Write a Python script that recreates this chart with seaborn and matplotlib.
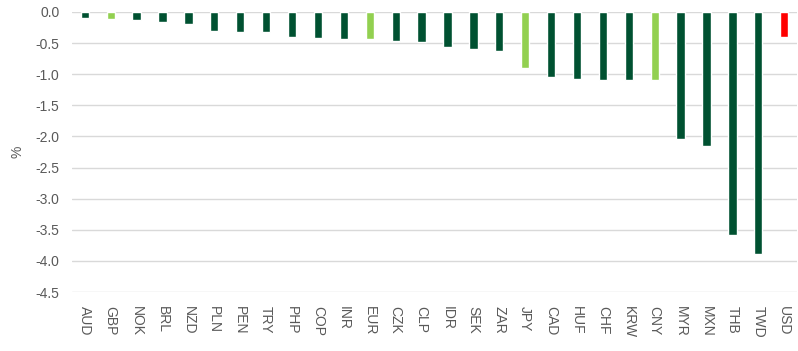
import numpy as np
import pandas as pd
import matplotlib
matplotlib.use("Agg")
import matplotlib.pyplot as plt
import seaborn as sns

currencies = ["AUD", "GBP", "NOK", "BRL", "NZD", "PLN", "PEN", "TRY", "PHP", "COP",
              "INR", "EUR", "CZK", "CLP", "IDR", "SEK", "ZAR", "JPY", "CAD", "HUF",
              "CHF", "KRW", "CNY", "MYR", "MXN", "THB", "TWD", "USD"]
values = [-0.10, -0.11, -0.13, -0.16, -0.19, -0.30, -0.32, -0.32, -0.40, -0.42,
          -0.44, -0.44, -0.47, -0.48, -0.57, -0.60, -0.62, -0.90, -1.04, -1.08,
          -1.09, -1.10, -1.10, -2.04, -2.15, -3.58, -3.89, -0.41]
groups = ["other"] * len(currencies)
for c in ["GBP", "EUR", "JPY", "CNY"]:
    groups[currencies.index(c)] = "major"
groups[currencies.index("USD")] = "usd"

yticks = [0.0, -0.5, -1.0, -1.5, -2.0, -2.5, -3.0, -3.5, -4.0, -4.5]

palette = {"other": "#005131", "major": "#92D050", "usd": "#FF0000"}
text_col = "#595959"

df = pd.DataFrame({"ccy": currencies, "val": values, "grp": groups})

sns.set_style("white")
plt.rcParams["font.family"] = ["Liberation Sans", "DejaVu Sans"]

fig = plt.figure(figsize=(7.98, 3.51), dpi=100)
ax = fig.add_axes([0.090, 0.168, 0.909, 0.798])

sns.barplot(data=df, x="ccy", y="val", hue="grp", palette=palette,
            dodge=False, width=0.32, saturation=1, legend=False, ax=ax, zorder=3)

ax.set_ylim(-4.5, 0.0)
ax.set_yticks(yticks)
ax.set_yticklabels([f"{t:.1f}" for t in yticks], color=text_col, fontsize=10)
ax.set_xlim(-0.5, len(currencies) - 0.5)
ax.set_xticks(range(len(currencies)))
ax.set_xticklabels(currencies, rotation=-90, color=text_col, fontsize=10)
ax.tick_params(axis="y", length=0, pad=9)
ax.tick_params(axis="x", length=0, pad=10)
ax.yaxis.grid(True, color="#D9D9D9", linewidth=1, zorder=0)
ax.set_axisbelow(True)
for s in ax.spines.values():
    s.set_visible(False)
ax.set_xlabel("")
ax.set_ylabel("%", color=text_col, fontsize=10, labelpad=8)

fig.savefig("out.png", dpi=100)
